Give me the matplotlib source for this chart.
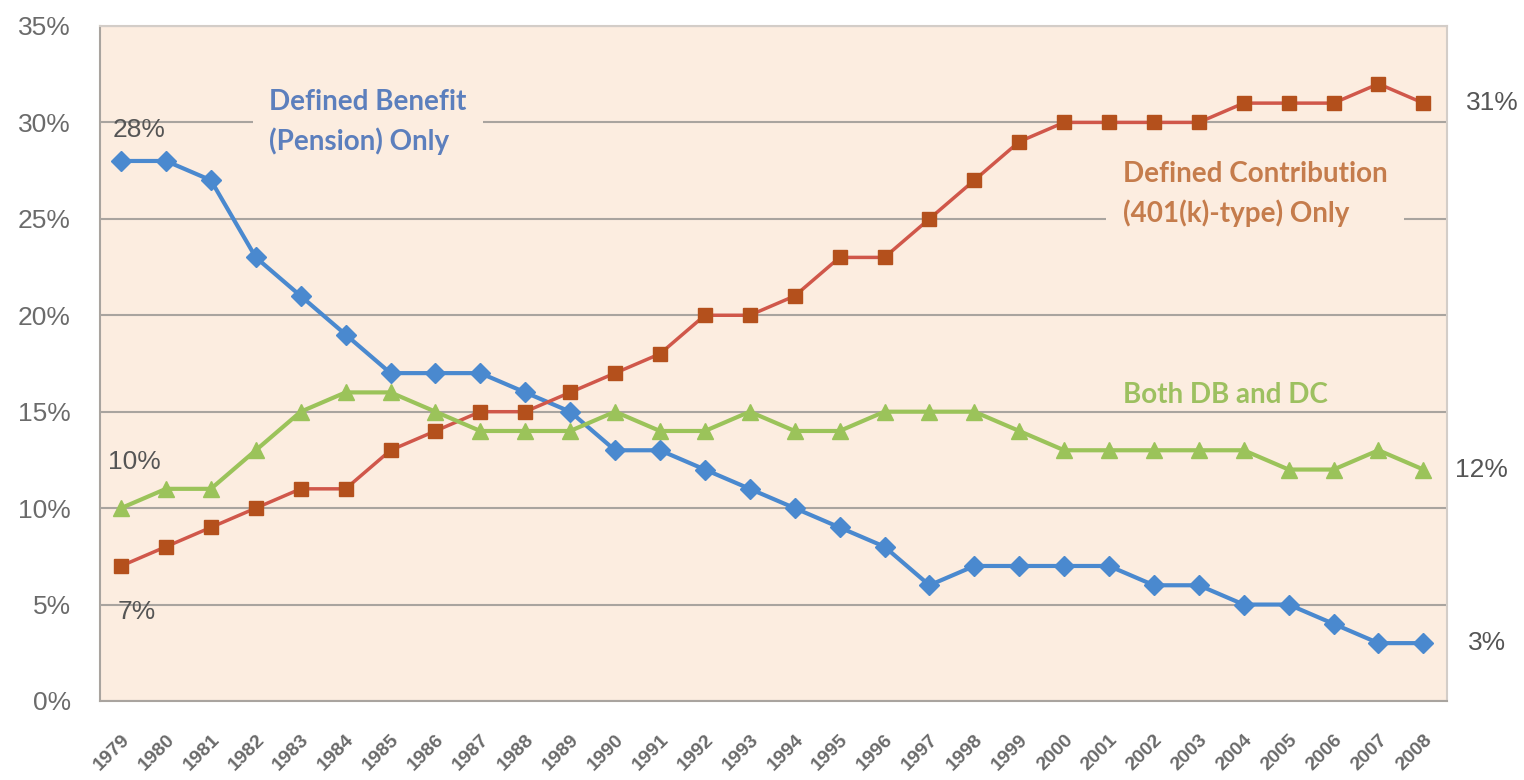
import matplotlib.pyplot as plt

years = [str(y) for y in range(1979, 2009)]
db_only = [28, 28, 27, 23, 21, 19, 17, 17, 17, 16, 15, 13, 13, 12, 11, 10, 9, 8, 6, 7,
           7, 7, 7, 6, 6, 5, 5, 4, 3, 3]
dc_only = [7, 8, 9, 10, 11, 11, 13, 14, 15, 15, 16, 17, 18, 20, 20, 21, 23, 23, 25, 27,
           29, 30, 30, 30, 30, 31, 31, 31, 32, 31]
both = [10, 11, 11, 13, 15, 16, 16, 15, 14, 14, 14, 15, 14, 14, 15, 14, 14, 15, 15, 15,
        14, 13, 13, 13, 13, 13, 12, 12, 13, 12]
y_ticks = [0, 5, 10, 15, 20, 25, 30, 35]

bg = '#fcede0'
x = range(len(years))

fig = plt.figure(figsize=(15.24, 7.8), dpi=100)
ax = fig.add_axes([0.0656, 0.1013, 0.884, 0.8654])
ax.set_facecolor(bg)

ax.plot(x, db_only, color='#4a89cf', lw=3, marker='D', ms=10, mfc='#4a89cf', mec='#4a89cf', zorder=4)
ax.plot(x, dc_only, color='#d0574a', lw=2.5, marker='s', ms=10, mfc='#b4501c', mec='#b4501c', zorder=4)
ax.plot(x, both, color='#9bc35a', lw=3, marker='^', ms=12, mfc='#9bc35a', mec='#9bc35a', zorder=4)

ax.set_xlim(-0.47, len(years) - 0.47)
ax.set_ylim(0, 35)
ax.set_yticks(y_ticks)
ax.set_yticklabels([f'{v}%' for v in y_ticks], fontsize=19, color='#6b6b6b',
                   family='Liberation Sans')
ax.set_xticks(list(x))
ax.set_xticklabels(years, rotation=45, ha='right', va='top', rotation_mode='anchor',
                   fontsize=14, fontweight='bold', color='#6a6a6a', family='Liberation Sans')
ax.tick_params(axis='y', length=0, pad=21)
ax.tick_params(axis='x', length=0, pad=22)
ax.grid(axis='y', color='#a9a49f', lw=1.5, zorder=1)
for s in ax.spines.values():
    s.set_color('#d3cdc8')
    s.set_linewidth(1.5)
ax.spines['left'].set_color('#a9a49f')
ax.spines['bottom'].set_color('#a9a49f')

lab = dict(fontsize=19, color='#555555', family='Liberation Sans', zorder=5,
           ha='left', va='center')
ax.text(-0.18, 29.6, '28%', **lab)
ax.text(-0.29, 12.4, '10%', **lab)
ax.text(-0.07, 4.6, '7%', **lab)
ax.text(29.95, 31, '31%', clip_on=False, **lab)
ax.text(29.7, 12, '12%', clip_on=False, **lab)
ax.text(30.0, 3, '3%', clip_on=False, **lab)

note = dict(fontsize=20, fontweight='bold', family='Lato', ha='left', va='center',
            linespacing=1.55, zorder=3)
ax.text(3.3, 30.0, 'Defined Benefit\n(Pension) Only', color='#5c7fbd',
        bbox=dict(boxstyle='square,pad=0.6', fc=bg, ec='none'), **note)
ax.text(22.3, 26.3, 'Defined Contribution\n(401(k)-type) Only', color='#c57c4c',
        bbox=dict(boxstyle='square,pad=0.6', fc=bg, ec='none'), **note)
ax.text(22.3, 15.85, 'Both DB and DC', color='#9dc060', **note)

fig.savefig('out.png', dpi=100)
